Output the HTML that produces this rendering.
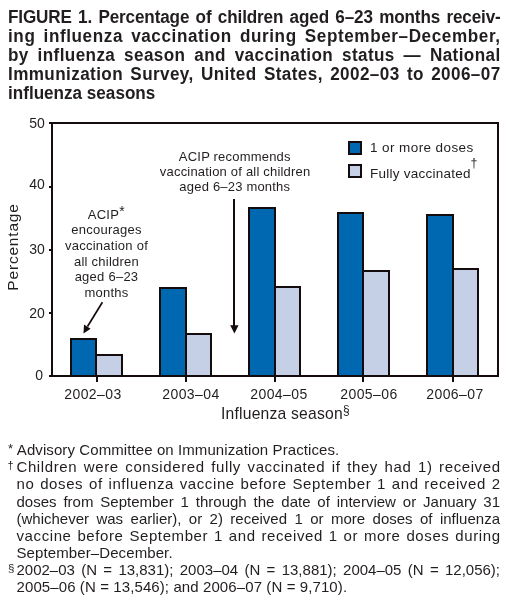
<!DOCTYPE html>
<html><head><meta charset="utf-8">
<style>
html,body{margin:0;padding:0;background:#fff;}
body{width:512px;height:601px;position:relative;overflow:hidden;will-change:transform;font-family:"Liberation Sans",sans-serif;color:#221e1f;}
.a{position:absolute;white-space:nowrap;}
.t{font-weight:bold;font-size:18px;line-height:20px;left:7.5px;width:518.5px;transform:scaleX(0.95);transform-origin:0 0;}
.j{text-align:justify;text-align-last:justify;}
.fn{font-size:15px;line-height:17px;}
.fj{left:16.5px;width:483.5px;}
.bar{position:absolute;box-sizing:border-box;border:2px solid #140c0c;}
.d{background:#0067b1;}
.l{background:#c5cfe6;}
.k{position:absolute;background:#140c0c;}
.yl{font-size:14px;line-height:16px;}
.xl{font-size:14px;line-height:16px;letter-spacing:0.4px;}
.an{font-size:13px;line-height:15px;text-align:center;letter-spacing:0.25px;}
</style></head><body>
<!-- title -->
<div class="a t j" style="top:7px;letter-spacing:-0.15px">FIGURE 1. Percentage of children aged 6–23 months receiv-</div>
<div class="a t j" style="top:26px;letter-spacing:0.63px">ing influenza vaccination during September–December,</div>
<div class="a t j" style="top:45px;letter-spacing:0.42px">by influenza season and vaccination status — National</div>
<div class="a t j" style="top:64px;letter-spacing:0.42px">Immunization Survey, United States, 2002–03 to 2006–07</div>
<div class="a t" style="top:83px">influenza seasons</div>

<!-- chart frame -->
<div class="k" style="left:51px;top:122px;width:448px;height:2px"></div>
<div class="k" style="left:51px;top:375px;width:448px;height:2px"></div>
<div class="k" style="left:51px;top:122px;width:2px;height:255px"></div>
<div class="k" style="left:497px;top:122px;width:2px;height:255px"></div>
<!-- y ticks -->
<div class="k" style="left:49px;top:122px;width:3px;height:2px"></div>
<div class="k" style="left:49px;top:186px;width:3px;height:2px"></div>
<div class="k" style="left:49px;top:249px;width:3px;height:2px"></div>
<div class="k" style="left:49px;top:312px;width:3px;height:2px"></div>
<div class="k" style="left:49px;top:375px;width:3px;height:2px"></div>

<!-- bars -->
<div class="bar d" style="left:70px;top:338px;width:27px;height:39px"></div>
<div class="bar l" style="left:95px;top:354px;width:28px;height:23px"></div>
<div class="bar d" style="left:159px;top:287px;width:28px;height:90px"></div>
<div class="bar l" style="left:185px;top:333px;width:27px;height:44px"></div>
<div class="bar d" style="left:248px;top:207px;width:28px;height:170px"></div>
<div class="bar l" style="left:274px;top:286px;width:27px;height:91px"></div>
<div class="bar d" style="left:337px;top:212px;width:27px;height:165px"></div>
<div class="bar l" style="left:362px;top:270px;width:28px;height:107px"></div>
<div class="bar d" style="left:426px;top:214px;width:28px;height:163px"></div>
<div class="bar l" style="left:452px;top:268px;width:27px;height:109px"></div>
<!-- x ticks -->
<div class="k" style="left:96px;top:375px;width:2px;height:7px"></div>
<div class="k" style="left:185px;top:375px;width:2px;height:7px"></div>
<div class="k" style="left:274px;top:375px;width:2px;height:7px"></div>
<div class="k" style="left:362px;top:375px;width:2px;height:7px"></div>
<div class="k" style="left:452px;top:375px;width:2px;height:7px"></div>

<!-- y labels -->
<div class="a yl" style="left:29.2px;top:114.6px">50</div>
<div class="a yl" style="left:29.2px;top:175.5px">40</div>
<div class="a yl" style="left:29.2px;top:241.3px">30</div>
<div class="a yl" style="left:29.2px;top:305.3px">20</div>
<div class="a yl" style="left:35.2px;top:366.5px">0</div>
<div class="a" style="left:-37.5px;top:237.9px;width:100px;height:18px;line-height:18px;font-size:15.5px;letter-spacing:0.8px;transform:rotate(-90deg);text-align:center">Percentage</div>

<!-- x labels -->
<div class="a xl" style="left:64.3px;top:386px">2002–03</div>
<div class="a xl" style="left:162.3px;top:386px">2003–04</div>
<div class="a xl" style="left:250.3px;top:386px">2004–05</div>
<div class="a xl" style="left:340.3px;top:386px">2005–06</div>
<div class="a xl" style="left:426.3px;top:386px">2006–07</div>
<div class="a" style="left:221px;top:404.7px;font-size:15.7px;line-height:18px;letter-spacing:0.2px">Influenza season</div>
<div class="a" style="left:343px;top:404px;font-size:12px;line-height:13px">§</div>

<!-- legend -->
<div class="bar d" style="left:348px;top:141px;width:14px;height:14px"></div>
<div class="bar l" style="left:348px;top:164px;width:14px;height:14px"></div>
<div class="a" style="left:370px;top:140px;font-size:13.5px;line-height:15px;letter-spacing:0.41px">1 or more doses</div>
<div class="a" style="left:370px;top:166px;font-size:13.5px;line-height:15px;letter-spacing:0.24px">Fully vaccinated</div>
<div class="a" style="left:470.6px;top:157px;font-size:12.5px;line-height:13px">†</div>

<!-- annotations -->
<div class="a an" style="left:46.5px;width:120px;top:206.9px;line-height:15.56px"><span style="position:relative;left:-0.3px">ACIP<span style="font-size:14px;line-height:0;position:relative;top:-3px;left:0px;letter-spacing:0">*</span></span><br>encourages<br>vaccination of<br>all children<br>aged 6–23<br>months</div>
<div class="a an" style="left:159.8px;width:150px;top:150px;line-height:14.85px;letter-spacing:0.2px">ACIP recommends<br>vaccination of all children<br>aged 6–23 months</div>

<!-- arrows -->
<svg class="a" style="left:0;top:0" width="512" height="601" viewBox="0 0 512 601">
  <line x1="102.4" y1="302.2" x2="87.5" y2="326.5" stroke="#140c0c" stroke-width="1.7"/>
  <polygon points="83.5,333.5 84,324.5 90.6,328.7" fill="#140c0c"/>
  <line x1="234" y1="199" x2="234" y2="327" stroke="#140c0c" stroke-width="2"/>
  <polygon points="230.2,325.2 238.6,325.2 234.4,333.6" fill="#140c0c"/>
</svg>

<!-- footnotes -->
<div class="a fn" style="left:7.9px;top:440.2px;font-size:13px">*</div>
<div class="a fn" style="left:16.8px;top:441px;letter-spacing:0.09px">Advisory Committee on Immunization Practices.</div>
<div class="a fn" style="left:7.6px;top:457px;font-size:11px">†</div>
<div class="a fn j fj" style="top:458.14px;letter-spacing:0.6px;width:484.1px">Children were considered fully vaccinated if they had 1) received</div>
<div class="a fn j fj" style="top:475.28px;letter-spacing:0.6px;width:484.1px">no doses of influenza vaccine before September 1 and received 2</div>
<div class="a fn j fj" style="top:493.1px">doses from September 1 through the date of interview or January 31</div>
<div class="a fn j fj" style="top:510.1px">(whichever was earlier), or 2) received 1 or more doses of influenza</div>
<div class="a fn j fj" style="top:527.2px;letter-spacing:0.6px;width:484.1px">vaccine before September 1 and received 1 or more doses during</div>
<div class="a fn" style="left:16.5px;top:543.84px;letter-spacing:0.1px">September–December.</div>
<div class="a fn" style="left:7.9px;top:559.5px;font-size:11.5px">§</div>
<div class="a fn j fj" style="top:560.98px">2002–03 (N = 13,831); 2003–04 (N = 13,881); 2004–05 (N = 12,056);</div>
<div class="a fn" style="left:16.5px;top:578.12px;letter-spacing:0.1px">2005–06 (N = 13,546); and 2006–07 (N = 9,710).</div>
</body></html>
